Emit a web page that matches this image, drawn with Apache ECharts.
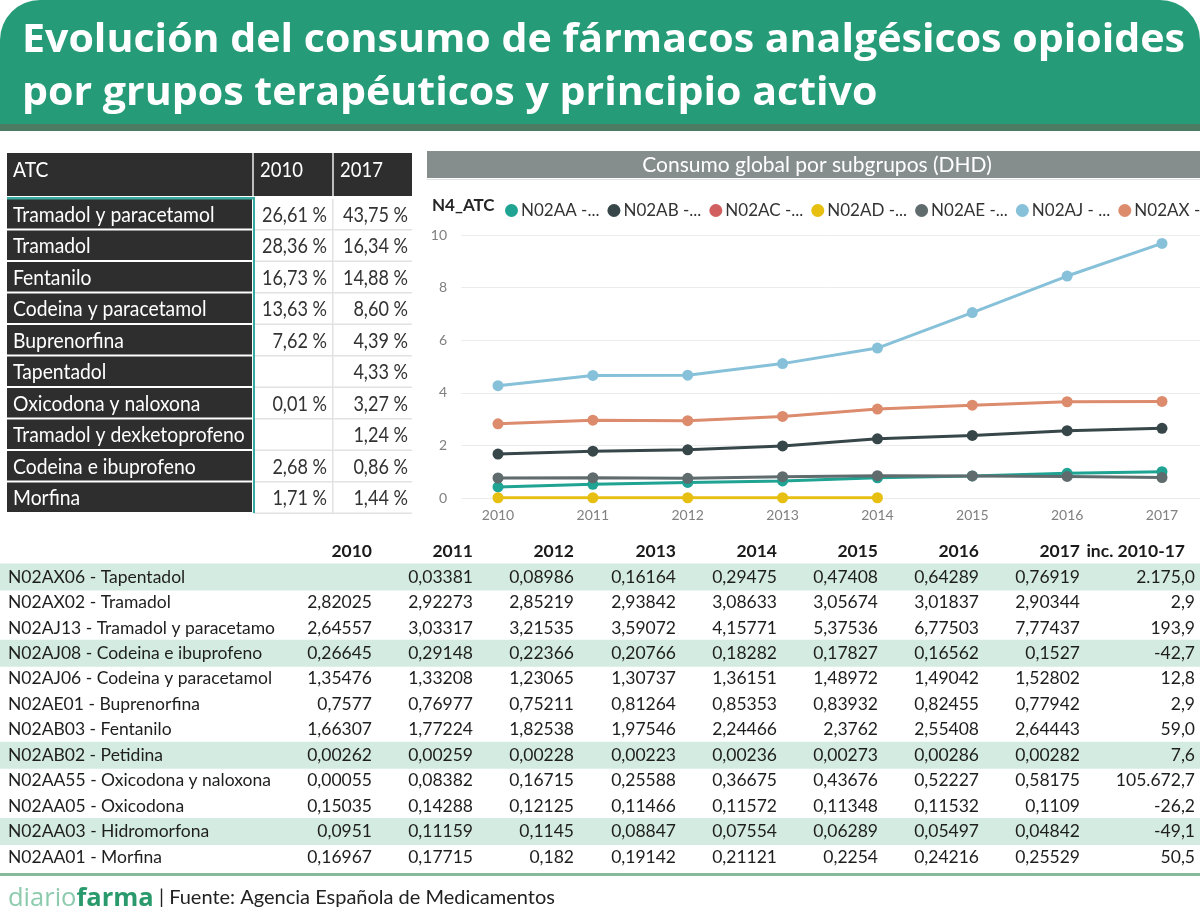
<!DOCTYPE html>
<html><head><meta charset="utf-8">
<script src="https://cdn.jsdelivr.net/npm/echarts/dist/echarts.min.js"></script>
<style>html,body{margin:0;padding:0;background:#fff}#c{width:1200px;height:915px}</style>
</head><body><div id="c"></div>
<script>
// ---------------- DATA ----------------
const titleLines = ['Evolución del consumo de fármacos analgésicos opioides', 'por grupos terapéuticos y principio activo'];
const chartTitle = 'Consumo global por subgrupos (DHD)';
const legendTitle = 'N4_ATC';
const years = ['2010', '2011', '2012', '2013', '2014', '2015', '2016', '2017'];
const yTicks = [0, 2, 4, 6, 8, 10];
const seriesNames = ['N02AA -...', 'N02AB -...', 'N02AC -...', 'N02AD -...', 'N02AE -...', 'N02AJ - ...', 'N02AX -...'];
const n02aa = [0.42, 0.52, 0.59, 0.65, 0.77, 0.84, 0.94, 1.00];
const n02ab = [1.67, 1.78, 1.83, 1.98, 2.25, 2.38, 2.56, 2.65];
const n02ac = [null, null, null, null, null, null, null, null];
const n02ad = [0.01, 0.01, 0.01, 0.01, 0.01, null, null, null];
const n02ae = [0.76, 0.77, 0.75, 0.81, 0.85, 0.84, 0.82, 0.78];
const n02aj = [4.27, 4.66, 4.67, 5.11, 5.70, 7.05, 8.44, 9.68];
const n02ax = [2.82, 2.96, 2.94, 3.10, 3.38, 3.53, 3.66, 3.67];

const atcHeader = ['ATC', '2010', '2017'];
const atcNames = ['Tramadol y paracetamol', 'Tramadol', 'Fentanilo', 'Codeina y paracetamol', 'Buprenorfina', 'Tapentadol', 'Oxicodona y naloxona', 'Tramadol y dexketoprofeno', 'Codeina e ibuprofeno', 'Morfina'];
const share2010 = ['26,61 %', '28,36 %', '16,73 %', '13,63 %', '7,62 %', '', '0,01 %', '', '2,68 %', '1,71 %'];
const share2017 = ['43,75 %', '16,34 %', '14,88 %', '8,60 %', '4,39 %', '4,33 %', '3,27 %', '1,24 %', '0,86 %', '1,44 %'];

const tableHeader = ['2010', '2011', '2012', '2013', '2014', '2015', '2016', '2017', 'inc. 2010-17'];
const rowLabels = ['N02AX06 - Tapentadol', 'N02AX02 - Tramadol', 'N02AJ13 - Tramadol y paracetamo', 'N02AJ08 - Codeina e ibuprofeno', 'N02AJ06 - Codeina y paracetamol', 'N02AE01 - Buprenorfina', 'N02AB03 - Fentanilo', 'N02AB02 - Petidina', 'N02AA55 - Oxicodona y naloxona', 'N02AA05 - Oxicodona', 'N02AA03 - Hidromorfona', 'N02AA01 - Morfina'];
const col2010 = ['', '2,82025', '2,64557', '0,26645', '1,35476', '0,7577', '1,66307', '0,00262', '0,00055', '0,15035', '0,0951', '0,16967'];
const col2011 = ['0,03381', '2,92273', '3,03317', '0,29148', '1,33208', '0,76977', '1,77224', '0,00259', '0,08382', '0,14288', '0,11159', '0,17715'];
const col2012 = ['0,08986', '2,85219', '3,21535', '0,22366', '1,23065', '0,75211', '1,82538', '0,00228', '0,16715', '0,12125', '0,1145', '0,182'];
const col2013 = ['0,16164', '2,93842', '3,59072', '0,20766', '1,30737', '0,81264', '1,97546', '0,00223', '0,25588', '0,11466', '0,08847', '0,19142'];
const col2014 = ['0,29475', '3,08633', '4,15771', '0,18282', '1,36151', '0,85353', '2,24466', '0,00236', '0,36675', '0,11572', '0,07554', '0,21121'];
const col2015 = ['0,47408', '3,05674', '5,37536', '0,17827', '1,48972', '0,83932', '2,3762', '0,00273', '0,43676', '0,11348', '0,06289', '0,2254'];
const col2016 = ['0,64289', '3,01837', '6,77503', '0,16562', '1,49042', '0,82455', '2,55408', '0,00286', '0,52227', '0,11532', '0,05497', '0,24216'];
const col2017 = ['0,76919', '2,90344', '7,77437', '0,1527', '1,52802', '0,77942', '2,64443', '0,00282', '0,58175', '0,1109', '0,04842', '0,25529'];
const colInc = ['2.175,0', '2,9', '193,9', '-42,7', '12,8', '2,9', '59,0', '7,6', '105.672,7', '-26,2', '-49,1', '50,5'];
const highlightRows = [0, 3, 7, 10];
const footerBrand = ['diario', 'farma'];
const footerSource = '| Fuente: Agencia Española de Medicamentos';

// ---------------- STYLE / LAYOUT ----------------
const seriesColors = ['#1fa393', '#374649', '#d25f5f', '#e6bf11', '#5f6b6d', '#86c1d9', '#dc8b6d'];
const seriesData = [n02aa, n02ab, n02ac, n02ad, n02ae, n02aj, n02ax];
const TF = 'Lato, "Open Sans", sans-serif';

const mctx = document.createElement('canvas').getContext('2d');
function measure(str, font) { mctx.font = font; return mctx.measureText(str).width; }

const g = [];
function rect(x, y, w, h, fill, r) { g.push({ type: 'rect', silent: true, shape: { x, y, width: w, height: h, r: r || 0 }, style: { fill } }); }
function txt(x, y, str, font, fill, align, extra) {
  g.push(Object.assign({ type: 'text', silent: true, x, y, style: { text: str, font, fill, align: align || 'left', verticalAlign: 'middle' } }, extra || {}));
}

// header
rect(0, 0, 1200, 126, '#259b77', [40, 40, 0, 0]);
rect(0, 124, 1200, 7, '#4b7b62');
const titleFont = 'bold 40px "Open Sans"';
const tScale = 1163 / measure(titleLines[0], titleFont);
txt(22, 41, titleLines[0], titleFont, '#ffffff', 'left', { scaleX: tScale });
txt(22, 94, titleLines[1], titleFont, '#ffffff', 'left', { scaleX: tScale });

// left table
const LT = { x: 7, labelW: 245, c1x: 254, c2x: 334, cw: 78, top: 153, headH: 43, rowTop: 199, rowH: 31.5 };
const tblFont = '21px ' + TF;
rect(LT.x, LT.top, LT.labelW, LT.headH, '#2e2e2e');
rect(LT.c1x, LT.top, LT.cw, LT.headH, '#2e2e2e');
rect(LT.c2x, LT.top, LT.cw, LT.headH, '#2e2e2e');
rect(LT.x + LT.labelW, LT.top, 2, LT.headH, '#bdbdbd');
rect(LT.c1x + LT.cw, LT.top, 2, LT.headH, '#bdbdbd');
txt(LT.x + 6, LT.top + 17, atcHeader[0], tblFont, '#ffffff', 'left', { scaleX: 0.92 });
txt(LT.c1x + 6, LT.top + 17, atcHeader[1], tblFont, '#ffffff', 'left', { scaleX: 0.88 });
txt(LT.c2x + 6, LT.top + 17, atcHeader[2], tblFont, '#ffffff', 'left', { scaleX: 0.88 });
atcNames.forEach((name, i) => {
  const y = LT.rowTop + i * LT.rowH;
  rect(LT.x, y, LT.labelW, LT.rowH - 2, '#2e2e2e');
  rect(LT.c1x, y + LT.rowH - 1.5, LT.cw * 2 + 2, 1.5, '#e2e2e2');
  txt(LT.x + 6, y + LT.rowH / 2, name, tblFont, '#ffffff', 'left', { scaleX: 0.92 });
  txt(LT.c1x + LT.cw - 5, y + LT.rowH / 2, share2010[i], tblFont, '#333333', 'right', { scaleX: 0.86 });
  txt(LT.c2x + LT.cw - 4, y + LT.rowH / 2, share2017[i], tblFont, '#333333', 'right', { scaleX: 0.86 });
});
rect(LT.c1x + LT.cw, LT.rowTop, 1.5, LT.rowH * atcNames.length, '#e2e2e2');
rect(LT.x, LT.rowTop - 2, LT.labelW + 2, 2.5, '#3aa9a0');
rect(LT.c1x - 1, LT.rowTop - 2, 2, LT.rowH * atcNames.length + 1, '#3aa9a0');

// chart title bar
rect(427, 151, 773, 27, '#868d8d');
rect(427, 179, 773, 1, '#dfe3e3');
txt(817, 165, chartTitle, '21px ' + TF, '#ffffff', 'center');
txt(432, 206, legendTitle, 'bold 17px ' + TF, '#252525');

// bottom table
const BT = { headY: 551, rowY0: 577, rowH: 25.45, rights: [372, 473, 574, 676, 777, 878, 979, 1080, 1185], incRight: 1195 };
const btFont = '17.5px ' + TF;
const cols = [col2010, col2011, col2012, col2013, col2014, col2015, col2016, col2017];
highlightRows.forEach(i => rect(0, BT.rowY0 + i * BT.rowH - 13.5, 1200, 27, '#d4ebe2'));
tableHeader.forEach((h, j) => txt(BT.rights[j], BT.headY, h, 'bold ' + btFont, '#1a1a1a', 'right'));
rowLabels.forEach((lab, i) => {
  const y = BT.rowY0 + i * BT.rowH;
  txt(8, y, lab, btFont, '#1e1e1e');
  cols.forEach((c, j) => txt(BT.rights[j], y, c[i], btFont, '#1e1e1e', 'right'));
  txt(BT.incRight, y, colInc[i], btFont, '#1e1e1e', 'right');
});

// footer
rect(0, 873, 1200, 3, '#86b99a');
g.push({ type: 'text', silent: true, x: 8, y: 899, style: { text: '{a|' + footerBrand[0] + '}{b|' + footerBrand[1] + '}', verticalAlign: 'middle', rich: { a: { font: '25.5px "Open Sans"', fill: '#8ccbad', color: '#8ccbad' }, b: { font: 'bold 25.5px "Open Sans"', fill: '#2a9a6c', color: '#2a9a6c' } } } });
txt(159, 898, footerSource, '20px ' + TF, '#222222');

// ---------------- CHART ----------------
const chart = echarts.init(document.getElementById('c'), null, { renderer: 'canvas' });
chart.setOption({
  animation: false,
  backgroundColor: '#ffffff',
  graphic: { elements: g },
  legend: {
    left: 500, top: 197, width: 900, itemWidth: 13, itemHeight: 13, itemGap: 8, icon: 'circle',
    textStyle: { fontFamily: TF, fontSize: 17, color: '#333333', padding: [0, 0, 0, -2] },
    data: seriesNames
  },
  grid: [
    { left: 461, right: 0, top: 235, bottom: 417 },
    { left: 498, right: 38, top: 235, bottom: 417 }
  ],
  xAxis: [
    { gridIndex: 0, type: 'value', show: false, min: 0, max: 1 },
    { gridIndex: 1, type: 'category', data: years, boundaryGap: false,
      axisLine: { show: false }, axisTick: { show: false },
      axisLabel: { color: '#808080', fontFamily: TF, fontSize: 14, margin: 10 } }
  ],
  yAxis: [
    { gridIndex: 0, type: 'value', min: yTicks[0], max: yTicks[yTicks.length - 1], interval: yTicks[1] - yTicks[0],
      axisLine: { show: false }, axisTick: { show: false },
      axisLabel: { color: '#808080', fontFamily: TF, fontSize: 14, margin: 14 },
      splitLine: { lineStyle: { color: '#ececec', width: 1 } } },
    { gridIndex: 1, type: 'value', min: yTicks[0], max: yTicks[yTicks.length - 1], show: false, splitLine: { show: false } }
  ],
  series: seriesNames.map((name, k) => ({
    name, type: 'line', xAxisIndex: 1, yAxisIndex: 1, data: seriesData[k],
    symbol: 'circle', symbolSize: 11, showSymbol: true,
    itemStyle: { color: seriesColors[k] }, lineStyle: { color: seriesColors[k], width: 3 },
    z: 3 + k
  }))
});
</script></body></html>
